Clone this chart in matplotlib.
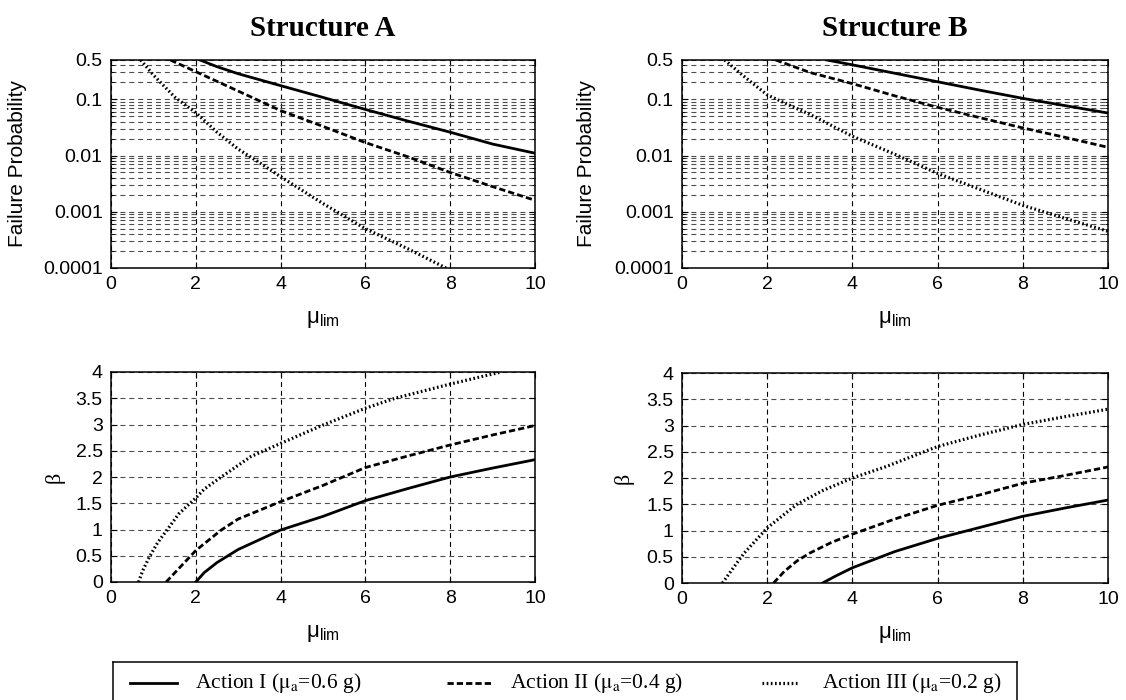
import matplotlib
matplotlib.use("Agg")
import matplotlib.pyplot as plt
from matplotlib.ticker import FixedLocator, NullFormatter, LogLocator
from matplotlib.lines import Line2D

plt.rcParams['font.family'] = ['Liberation Sans', 'DejaVu Sans']
plt.rcParams['mathtext.fontset'] = 'custom'
plt.rcParams['mathtext.rm'] = 'Liberation Sans'
plt.rcParams['mathtext.it'] = 'Liberation Sans'
plt.rcParams['lines.scale_dashes'] = False

# ---------------- data ----------------
titles = ["Structure A", "Structure B"]
legend_labels = [r"Action I ($\mathrm{\mu_a}$=0.6 g)",
                 r"Action II ($\mathrm{\mu_a}$=0.4 g)",
                 r"Action III ($\mathrm{\mu_a}$=0.2 g)"]

# Structure A - failure probability
pfA_x1 = [2.1, 2.5, 3, 4, 5, 6, 7, 8, 9, 10]
pfA_y1 = [0.5, 0.38, 0.285, 0.175, 0.108, 0.066, 0.041, 0.026, 0.016, 0.011]
pfA_x2 = [1.4, 2, 3, 4, 5, 6, 7, 8, 9, 10]
pfA_y2 = [0.5, 0.31, 0.14, 0.063, 0.033, 0.017, 0.0095, 0.005, 0.0028, 0.0016]
pfA_x3 = [0.7, 1, 1.5, 2, 2.5, 3, 3.5, 4, 5, 6, 7, 7.9]
pfA_y3 = [0.5, 0.27, 0.11, 0.058, 0.026, 0.013, 0.0075, 0.0042, 0.0014, 0.0005, 0.00022, 0.0001]

# Structure B - failure probability
pfB_x1 = [3.4, 4, 5, 6, 7, 8, 9, 10]
pfB_y1 = [0.5, 0.41, 0.29, 0.205, 0.145, 0.104, 0.077, 0.057]
pfB_x2 = [2.2, 3, 4, 5, 6, 7, 8, 9, 10]
pfB_y2 = [0.5, 0.3, 0.19, 0.115, 0.072, 0.047, 0.031, 0.021, 0.014]
pfB_x3 = [1.0, 1.5, 2, 2.5, 3, 4, 5, 6, 7, 8, 9, 10]
pfB_y3 = [0.5, 0.24, 0.12, 0.08, 0.054, 0.022, 0.0105, 0.0048, 0.0025, 0.0013, 0.00076, 0.00045]

# Structure A - reliability index
bA_x1 = [2, 2.2, 2.5, 3, 4, 5, 6, 7, 8, 9, 10]
bA_y1 = [0, 0.18, 0.37, 0.62, 0.99, 1.25, 1.55, 1.78, 2.0, 2.17, 2.33]
bA_x2 = [1.3, 2, 2.6, 3, 4, 5, 6, 7, 8, 9, 10]
bA_y2 = [0, 0.6, 0.99, 1.2, 1.53, 1.84, 2.18, 2.4, 2.61, 2.8, 2.98]
bA_x3 = [0.65, 0.75, 0.9, 1.1, 1.32, 1.6, 2.0, 2.2, 2.6, 3.3, 4, 5, 6, 6.7, 8, 9.2]
bA_y3 = [0, 0.22, 0.47, 0.75, 0.99, 1.3, 1.6, 1.77, 2.0, 2.39, 2.64, 2.99, 3.31, 3.5, 3.77, 4.0]

# Structure B - reliability index
bB_x1 = [3.3, 3.6, 4, 5, 6, 7, 8, 9, 10]
bB_y1 = [0, 0.13, 0.29, 0.6, 0.85, 1.06, 1.27, 1.43, 1.58]
bB_x2 = [2.15, 2.4, 2.7, 3, 3.5, 4, 5, 6, 7, 8, 9, 10]
bB_y2 = [0, 0.22, 0.42, 0.57, 0.77, 0.93, 1.22, 1.48, 1.68, 1.9, 2.05, 2.21]
bB_x3 = [0.95, 1.17, 1.46, 2, 2.7, 3.3, 4, 4.8, 6, 7, 8, 9, 10]
bB_y3 = [0, 0.25, 0.57, 1.05, 1.5, 1.76, 2.0, 2.22, 2.6, 2.82, 3.02, 3.17, 3.31]

x_ticks = [0, 2, 4, 6, 8, 10]
pf_ticks = [0.0001, 0.001, 0.01, 0.1, 0.5]
pf_ticklabels = ["0.0001", "0.001", "0.01", "0.1", "0.5"]
b_ticks = [0, 0.5, 1, 1.5, 2, 2.5, 3, 3.5, 4]
b_ticklabels = ["0", "0.5", "1", "1.5", "2", "2.5", "3", "3.5", "4"]

# ---------------- styles ----------------
styles = [dict(color='k', lw=2.0, linestyle='-'),
          dict(color='k', lw=2.0, linestyle=(0, (4.5, 2.2))),
          dict(color='k', lw=2.3, linestyle=(0, (1.2, 1.8)))]

W, H = 1126, 700
fig = plt.figure(figsize=(W / 100, H / 100), dpi=100)

def fpos(l, t, r, b):
    return [l / W, 1 - b / H, (r - l) / W, (b - t) / H]

axTL = fig.add_axes(fpos(111, 60, 535, 268))
axTR = fig.add_axes(fpos(682, 60, 1108, 268))
axBL = fig.add_axes(fpos(111, 372, 535, 582))
axBR = fig.add_axes(fpos(682, 373, 1108, 583))

grid_kw_v = dict(color='k', lw=0.8, linestyle=(0, (3.6, 2.8)))
grid_kw_h = dict(color='0.3', lw=0.8, linestyle=(0, (3.6, 2.8)))

def common(ax):
    ax.set_xlim(0, 10)
    ax.set_xticks(x_ticks)
    ax.set_xticklabels([str(v) for v in x_ticks])
    ax.tick_params(direction='in', top=True, right=True, length=4, width=0.8,
                   labelsize=14, pad=6, colors='k')
    ax.tick_params(which='minor', direction='in', top=True, right=True, length=2, width=0.6)
    for s in ax.spines.values():
        s.set_linewidth(1.1)
    ax.xaxis.grid(True, which='major', **grid_kw_v)
    ax.set_xlabel(r"$\mathrm{\mu_{lim}}$", fontsize=16, labelpad=11)
    ax.set_axisbelow(True)

# failure probability panels
for ax, xs, ys, title, lx in [
        (axTL, [pfA_x1, pfA_x2, pfA_x3], [pfA_y1, pfA_y2, pfA_y3], titles[0], -0.197),
        (axTR, [pfB_x1, pfB_x2, pfB_x3], [pfB_y1, pfB_y2, pfB_y3], titles[1], -0.202)]:
    for x, y, st in zip(xs, ys, styles):
        ax.plot(x, y, **st)
    ax.set_yscale('log')
    ax.set_ylim(0.0001, 0.5)
    common(ax)
    ax.yaxis.set_major_locator(FixedLocator(pf_ticks))
    ax.set_yticklabels(pf_ticklabels)
    ax.yaxis.set_minor_locator(LogLocator(base=10, subs=range(2, 10)))
    ax.yaxis.set_minor_formatter(NullFormatter())
    ax.yaxis.grid(True, which='both', **grid_kw_h)
    ax.set_ylabel("Failure Probability", fontsize=15)
    ax.yaxis.set_label_coords(lx, 0.5)
    ax.set_title(title, fontsize=21, fontweight='bold', family='Liberation Serif', pad=17)

# reliability index panels
for ax, xs, ys, lx in [
        (axBL, [bA_x1, bA_x2, bA_x3], [bA_y1, bA_y2, bA_y3], -0.11),
        (axBR, [bB_x1, bB_x2, bB_x3], [bB_y1, bB_y2, bB_y3], -0.113)]:
    for x, y, st in zip(xs, ys, styles):
        ax.plot(x, y, **st)
    ax.set_ylim(0, 4)
    common(ax)
    ax.set_yticks(b_ticks)
    ax.set_yticklabels(b_ticklabels)
    ax.yaxis.grid(True, which='major', **grid_kw_h)
    ax.set_ylabel("β", fontsize=16, family='Liberation Serif')
    ax.yaxis.set_label_coords(lx, 0.5)

# ---------------- legend box ----------------
lax = fig.add_axes(fpos(113, 662, 1017, 714))
lax.set_xlim(113, 1017)
lax.set_ylim(714, 662)
lax.set_xticks([])
lax.set_yticks([])
for s in lax.spines.values():
    s.set_linewidth(1.1)
handle_x = [(130, 177), (447, 492), (762, 798)]
text_x = [195, 510, 822]
for (x0, x1), tx, st, lab in zip(handle_x, text_x, styles, legend_labels):
    lax.add_line(Line2D([x0, x1], [683, 683], **st))
    lax.text(tx, 683, lab, fontsize=15.5, family='Liberation Serif',
             math_fontfamily='stix', va='center', ha='left')

fig.savefig("out.png", dpi=100)
